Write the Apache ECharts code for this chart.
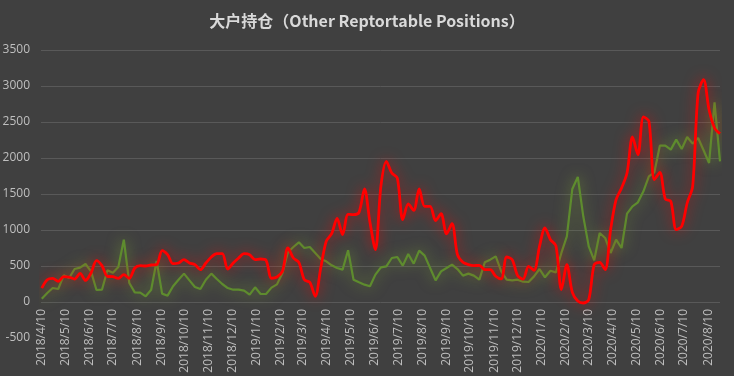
<!DOCTYPE html>
<html>
<head>
<meta charset="utf-8">
<script src="https://cdn.jsdelivr.net/npm/echarts@6/dist/echarts.min.js"></script>
<style>
  html, body { margin: 0; padding: 0; background: #404040; }
  #chart { width: 734px; height: 376px; }
</style>
</head>
<body>
<div id="chart"></div>
<script>
// weekly report, first Tuesday 2018/4/10, 125 weeks
var startDate = [2018, 4, 10];
var weekCount = 125;

// red series
var redValues = [
  194, 310, 329, 287, 352, 347, 319, 398, 300, 403,
  574, 505, 356, 352, 329, 380, 329, 472, 505, 500,
  514, 519, 713, 657, 532, 542, 588, 542, 519, 449,
  542, 625, 671, 671, 458, 542, 611, 671, 657, 588,
  597, 580, 330, 347, 426, 750, 611, 551, 310, 273,
  79, 472, 843, 949, 1162, 935, 1218, 1213, 1245, 1570,
  1107, 727, 1607, 1954, 1792, 1722, 1144, 1361, 1273, 1570,
  1329, 1329, 1130, 1227, 945, 1088, 657, 551, 519, 505,
  509, 449, 449, 357, 320, 625, 588, 366, 319, 495,
  440, 773, 1028, 866, 782, 171, 519, 134, 14, -14,
  32, 519, 551, 449, 1005, 1421, 1583, 1792, 2292, 2046,
  2570, 2509, 1699, 1801, 1431, 1398, 1005, 1051, 1375, 1607,
  2903, 3088, 2671, 2417, 2338
];

// green series
var greenValues = [
  46, 125, 194, 180, 370, 333, 458, 477, 528, 426,
  167, 171, 440, 407, 486, 866, 264, 134, 130, 79,
  171, 570, 116, 88, 218, 310, 394, 301, 208, 180,
  310, 394, 319, 250, 194, 171, 171, 157, 102, 204,
  111, 111, 200, 245, 403, 690, 764, 829, 750, 764,
  681, 597, 565, 509, 472, 449, 718, 310, 273, 241,
  218, 380, 482, 495, 611, 625, 505, 667, 532, 713,
  644, 472, 301, 426, 472, 519, 458, 366, 394, 366,
  310, 551, 588, 634, 426, 310, 301, 310, 282, 278,
  356, 458, 343, 435, 412, 681, 912, 1570, 1736, 1190,
  773, 579, 958, 889, 681, 866, 750, 1227, 1329, 1384,
  1537, 1746, 1801, 2171, 2171, 2116, 2255, 2125, 2292, 2199,
  2278, 2107, 1931, 2773, 1954
];

// month labels, all on the 10th
var labelMonths = [];
for (var y = 2018; y <= 2020; y++) {
  for (var m = 1; m <= 12; m++) {
    if ((y === 2018 && m < 4) || (y === 2020 && m > 8)) continue;
    labelMonths.push([y, m]);
  }
}

var DAY = 86400000;
var t0 = Date.UTC(startDate[0], startDate[1] - 1, startDate[2]);

function dayOf(y, m, d) {
  return Math.round((Date.UTC(y, m - 1, d) - t0) / DAY);
}
function dateText(day) {
  var d = new Date(t0 + Math.round(day) * DAY);
  return d.getUTCFullYear() + '/' + (d.getUTCMonth() + 1) + '/' + d.getUTCDate();
}

var labelDays = labelMonths.map(function (p) { return dayOf(p[0], p[1], 10); });

function pairs(vals) {
  return vals.map(function (v, i) { return [i * 7, v]; });
}

// no grid line at -500, the others grey
var gridColors = ['rgba(0,0,0,0)', '#595959', '#595959', '#595959', '#595959',
  '#595959', '#595959', '#595959', '#595959'];

var chart = echarts.init(document.getElementById('chart'));

var option = {
  backgroundColor: '#404040',
  animation: false,
  title: {
    text: '大户持仓（Other Reptortable Positions）',
    left: 'center',
    top: 8,
    textStyle: {
      color: '#d9d9d9',
      fontSize: 16,
      fontWeight: 'bold',
      fontFamily: 'Noto Sans CJK SC'
    }
  },
  grid: {
    left: 41,
    right: 14,
    top: 50,
    bottom: 38,
    outerBoundsMode: 'none',
    containLabel: false
  },
  xAxis: {
    type: 'value',
    min: -1,
    max: (weekCount - 1) * 7,
    axisLine: { show: false },
    axisTick: { show: false },
    splitLine: { show: false },
    axisLabel: {
      customValues: labelDays,
      rotate: 90,
      color: '#bfbfbf',
      fontSize: 12,
      fontFamily: 'Open Sans',
      // labels hang from the 0 line, 36px above the plot bottom
      margin: -29,
      showMinLabel: true,
      showMaxLabel: true,
      formatter: function (v) { return dateText(v); }
    }
  },
  yAxis: {
    type: 'value',
    min: -500,
    max: 3500,
    interval: 500,
    axisLine: { show: false, onZero: false },
    axisTick: { show: false },
    axisLabel: {
      color: '#bfbfbf',
      fontSize: 12,
      fontFamily: 'Open Sans',
      margin: 11,
      formatter: function (v) { return String(v); }
    },
    splitLine: { lineStyle: { color: gridColors, width: 1 } }
  },
  series: [
    {
      name: 'green',
      type: 'line',
      data: pairs(greenValues),
      showSymbol: false,
      lineStyle: {
        color: '#5e8c2e',
        width: 2.2,
        shadowColor: 'rgba(130,170,50,0.75)',
        shadowBlur: 14
      },
      itemStyle: { color: '#5e8c2e' }
    },
    {
      name: 'red',
      type: 'line',
      data: pairs(redValues),
      showSymbol: false,
      smooth: 0.3,
      lineStyle: {
        color: '#ff0000',
        width: 2.8,
        shadowColor: 'rgba(255,0,0,0.7)',
        shadowBlur: 14
      },
      itemStyle: { color: '#ff0000' }
    }
  ]
};

chart.setOption(option);
</script>
</body>
</html>
